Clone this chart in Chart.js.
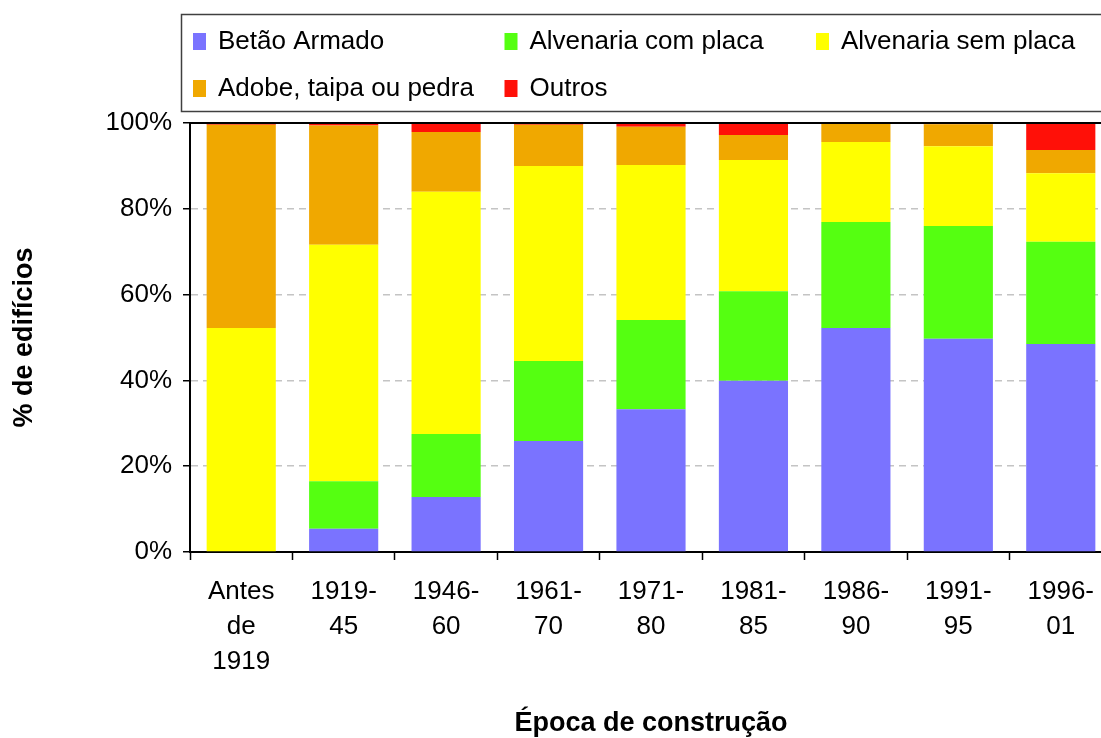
<!DOCTYPE html>
<html lang="pt">
<head>
<meta charset="utf-8">
<title>Edifícios por época de construção e tipo de estrutura</title>
<script src="https://cdn.jsdelivr.net/npm/chart.js@4.4.1/dist/chart.umd.min.js"></script>
<style>
  html, body { margin: 0; padding: 0; background: #fff; overflow: hidden; }
  #wrap { position: relative; width: 1112px; height: 738px; }
</style>
</head>
<body>
<div id="wrap"><canvas id="chart"></canvas></div>
<script>
// Época de construção (rótulos em várias linhas)
const categories = [
  ['Antes', 'de', '1919'],
  ['1919-', '45'],
  ['1946-', '60'],
  ['1961-', '70'],
  ['1971-', '80'],
  ['1981-', '85'],
  ['1986-', '90'],
  ['1991-', '95'],
  ['1996-', '01']
];

// Percentagem de edifícios por tipo de estrutura
const betaoArmado      = [0.0,  5.4, 12.8, 25.9, 33.3, 39.9, 52.2, 49.7, 48.5];
const alvenariaCom     = [0.0, 11.1, 14.7, 18.6, 20.8, 20.9, 24.7, 26.3, 23.8];
const alvenariaSem     = [52.2, 55.1, 56.5, 45.5, 36.1, 30.6, 18.7, 18.6, 16.0];
const adobeTaipaPedra  = [47.4, 27.8, 13.9,  9.6,  8.9,  5.8,  4.2,  5.1,  5.4];
const outros           = [0.4,  0.6,  2.1,  0.4,  0.9,  2.8,  0.2,  0.3,  6.3];

const yTicks = [0, 20, 40, 60, 80, 100];

const FONT = '"Liberation Sans", Arial, Helvetica, sans-serif';

// Legenda em grelha de três colunas, dentro de uma caixa
const gridLegend = {
  id: 'gridLegend',
  afterDraw(chart) {
    const ctx = chart.ctx;
    ctx.save();
    ctx.strokeStyle = '#404040';
    ctx.lineWidth = 1.5;
    ctx.strokeRect(181.5, 14.5, 1000, 97);
    ctx.font = '26px ' + FONT;
    ctx.textBaseline = 'middle';
    ctx.textAlign = 'left';
    chart.data.datasets.forEach((ds, i) => {
      const col = i % 3, row = Math.floor(i / 3);
      const x = 193 + col * 311.5;
      const y = 41 + row * 47;
      ctx.fillStyle = ds.backgroundColor;
      ctx.fillRect(x, y - 8, 13, 17);
      ctx.fillStyle = '#000';
      ctx.fillText(ds.label, x + 25, y + 1);
    });
    ctx.restore();
  }
};

// Linha superior da moldura da área do gráfico
const plotFrame = {
  id: 'plotFrame',
  afterDatasetsDraw(chart) {
    const { ctx, chartArea } = chart;
    ctx.save();
    ctx.strokeStyle = '#000';
    ctx.lineWidth = 2;
    ctx.beginPath();
    ctx.moveTo(chartArea.left - 1, chartArea.top);
    ctx.lineTo(chartArea.right, chartArea.top);
    ctx.stroke();
    ctx.restore();
  }
};

const ds = (label, data, color) => ({
  label, data,
  backgroundColor: color,
  borderWidth: 0,
  barPercentage: 0.675,
  categoryPercentage: 1.0
});

new Chart(document.getElementById('chart'), {
  type: 'bar',
  data: {
    labels: categories,
    datasets: [
      ds('Betão Armado', betaoArmado, '#7a73ff'),
      ds('Alvenaria com placa', alvenariaCom, '#55ff11'),
      ds('Alvenaria sem placa', alvenariaSem, '#ffff00'),
      ds('Adobe, taipa ou pedra', adobeTaipaPedra, '#f0a800'),
      ds('Outros', outros, '#ff1008')
    ]
  },
  options: {
    responsive: true,
    maintainAspectRatio: false,
    animation: false,
    layout: { padding: { top: 123, right: 0, bottom: 0, left: 0 } },
    plugins: {
      legend: { display: false },
      tooltip: { enabled: false }
    },
    scales: {
      x: {
        stacked: true,
        offset: true,
        afterFit(scale) { scale.height = 186; },
        grid: {
          offset: true,
          drawOnChartArea: false,
          drawTicks: true,
          tickLength: 8,
          tickColor: '#000',
          tickWidth: 1.5
        },
        border: { display: true, color: '#000', width: 2 },
        ticks: {
          color: '#000',
          font: { family: FONT, size: 26, lineHeight: 35 / 26 },
          padding: 14,
          maxRotation: 0,
          autoSkip: false
        },
        title: {
          display: true,
          text: 'Época de construção',
          color: '#000',
          font: { family: FONT, size: 27, weight: 'bold', lineHeight: 1 },
          padding: { top: 0, bottom: 1 }
        }
      },
      y: {
        stacked: true,
        min: 0,
        max: 100,
        afterFit(scale) { scale.width = 190; },
        afterBuildTicks(scale) { scale.ticks = yTicks.map(v => ({ value: v })); },
        grid: {
          color: '#c4c4c4',
          lineWidth: 1.5,
          drawTicks: true,
          tickLength: 7,
          tickColor: '#000',
          tickWidth: 1.5,
          tickBorderDash: []
        },
        border: { display: true, color: '#000', width: 2, dash: [7, 5] },
        ticks: {
          color: '#000',
          font: { family: FONT, size: 26 },
          padding: 11,
          callback: v => v + '%'
        },
        title: {
          display: true,
          text: '% de edifícios',
          color: '#000',
          font: { family: FONT, size: 27, weight: 'bold', lineHeight: 1 },
          padding: { top: 11, bottom: 0 }
        }
      }
    }
  },
  plugins: [gridLegend, plotFrame]
});
</script>
</body>
</html>
